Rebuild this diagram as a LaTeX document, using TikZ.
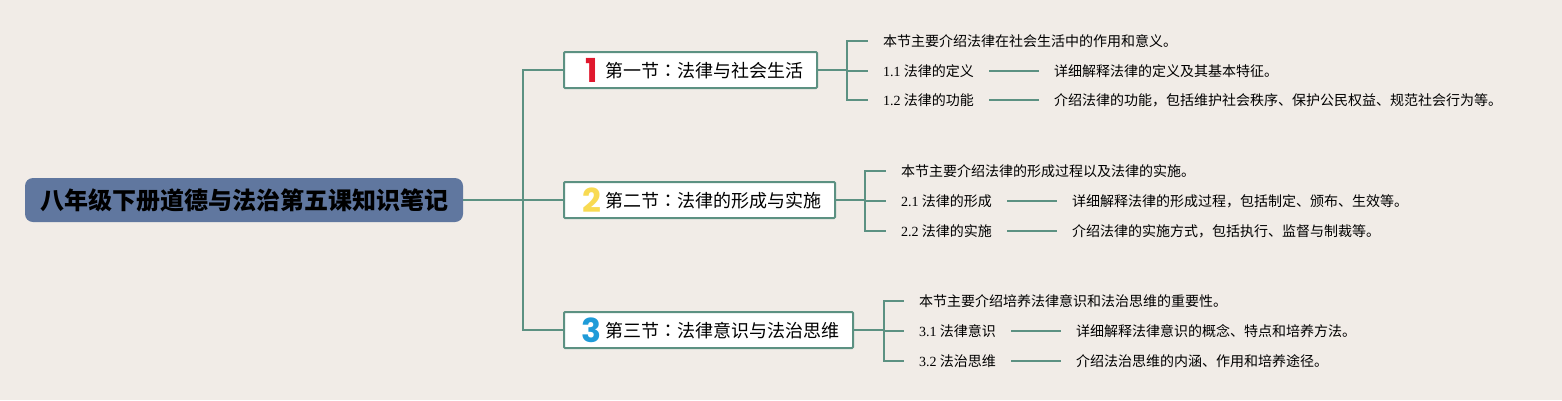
\documentclass[tikz,border=0pt]{standalone}
\usepackage{fontspec}
\setmainfont{Noto Sans CJK SC}
\newfontfamily\latinfont{Liberation Serif}
\newfontfamily\tcfont{Noto Sans CJK TC}
\newfontfamily\digitfont{Poppins}[BoldFont={* Bold}]
\definecolor{bgcol}{HTML}{F1ECE7}
\definecolor{linecol}{HTML}{5C9182}
\definecolor{rootcol}{HTML}{60779F}
\definecolor{numred}{HTML}{E0182D}
\definecolor{numyellow}{HTML}{F8DA52}
\definecolor{numblue}{HTML}{1F9BD8}
\newcommand{\numtag}[2]{\makebox[27pt][c]{\smash{\raisebox{-4.4pt}{\fontsize{33}{33}\digitfont\bfseries\textcolor{#1}{#2}}}}}
\newcommand{\colonmark}{{\tcfont ：}}
\newcommand{\latnum}[1]{{\latinfont #1}}
\begin{document}
\begin{tikzpicture}
[x=1pt,y=-1pt,
rootbox/.style={fill=rootcol,rounded corners=8pt,minimum width=438pt,minimum height=44pt,font=\fontsize{24}{28}\selectfont\bfseries},
secbox/.style={draw=linecol,fill=white,line width=2pt,rounded corners=1pt,anchor=west,minimum height=36pt,inner xsep=14pt,inner ysep=0pt,text height=18pt,text depth=2.2pt,font=\fontsize{18}{22}\selectfont},
leaf/.style={anchor=west,inner xsep=15pt,inner ysep=0pt,font=\fontsize{14}{16}\selectfont},
link/.style={linecol,line width=1.7pt}]
\fill[bgcol] (0,0) rectangle (1562,400);
\useasboundingbox (0,0) rectangle (1562,400);
% root and sections
\node[rootbox] (root) at (244,200) {八年级下册道德与法治第五课知识笔记};
\node[secbox] (s1) at (563,70) {\numtag{numred}{1}第一节\colonmark 法律与社会生活};
\node[secbox] (s2) at (563,200) {\numtag{numyellow}{2}第二节\colonmark 法律的形成与实施};
\node[secbox] (s3) at (563,330) {\numtag{numblue}{3}第三节\colonmark 法律意识与法治思维};
% first section
\node[leaf] (n10) at (868,41) {本节主要介绍法律在社会生活中的作用和意义。};
\node[leaf] (n11) at (868,71) {\latnum{1.1} 法律的定义};
\node[leaf] (n12) at (868,100) {\latnum{1.2} 法律的功能};
\node[leaf] (d11) at (1039,71) {详细解释法律的定义及其基本特征。};
\node[leaf] (d12) at (1039,100) {介绍法律的功能，包括维护社会秩序、保护公民权益、规范社会行为等。};
% second section
\node[leaf] (n20) at (886,171) {本节主要介绍法律的形成过程以及法律的实施。};
\node[leaf] (n21) at (886,201) {\latnum{2.1} 法律的形成};
\node[leaf] (n22) at (886,231) {\latnum{2.2} 法律的实施};
\node[leaf] (d21) at (1057,201) {详细解释法律的形成过程，包括制定、颁布、生效等。};
\node[leaf] (d22) at (1057,231) {介绍法律的实施方式，包括执行、监督与制裁等。};
% third section
\node[leaf] (n30) at (904,301) {本节主要介绍培养法律意识和法治思维的重要性。};
\node[leaf] (n31) at (904,331) {\latnum{3.1} 法律意识};
\node[leaf] (n32) at (904,361) {\latnum{3.2} 法治思维};
\node[leaf] (d31) at (1061,331) {详细解释法律意识的概念、特点和培养方法。};
\node[leaf] (d32) at (1061,361) {介绍法治思维的内涵、作用和培养途径。};
% joints
\coordinate (j0) at (523,200);
\coordinate (j1) at (847,70);
\coordinate (j2) at (865,200);
\coordinate (j3) at (884,330);
\draw[link] (root) -- (s2);
\foreach \from/\to in {j0/s1,j0/s3,j1/n10,j1/n11,j1/n12,j2/n20,j2/n21,j2/n22,j3/n30,j3/n31,j3/n32}
\draw[link] (\from) |- (\to);
\foreach \from/\to in {s1/j1,s2/j2,s3/j3,n11/d11,n12/d12,n21/d21,n22/d22,n31/d31,n32/d32}
\draw[link] (\from) -- (\to);
\end{tikzpicture}
\end{document}
